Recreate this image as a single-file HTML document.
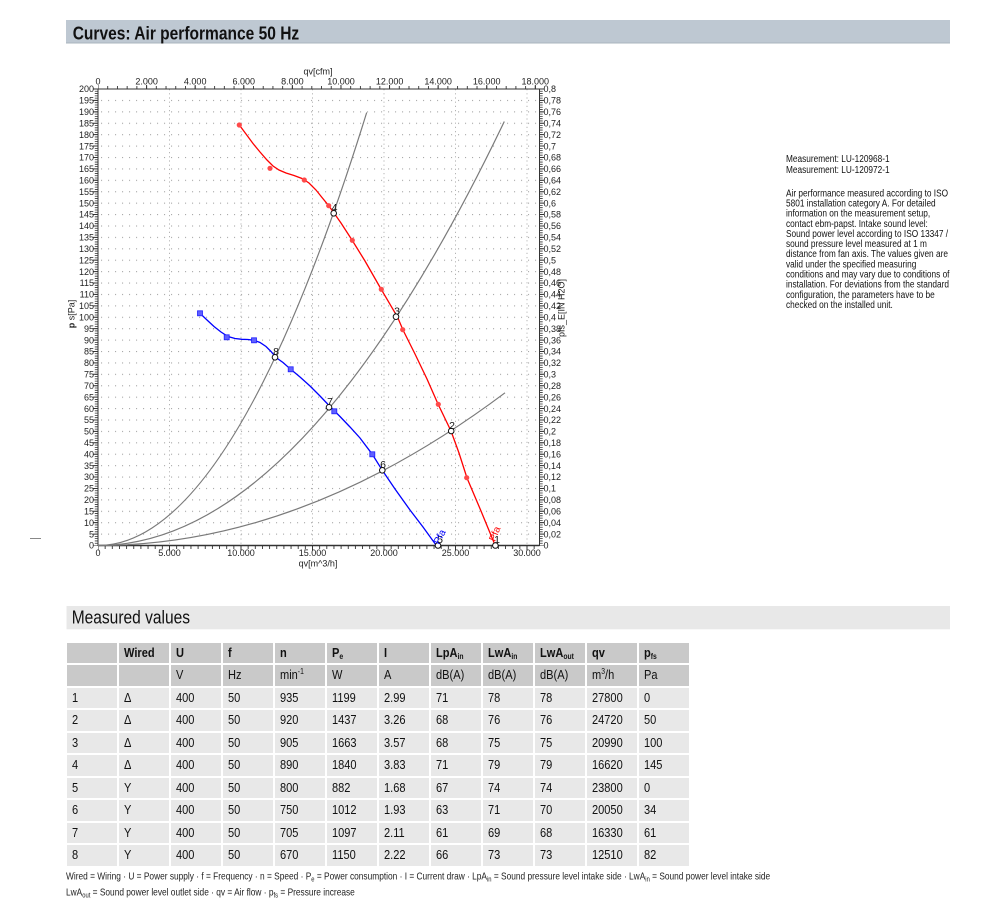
<!DOCTYPE html>
<html><head><meta charset="utf-8">
<style>
html,body{margin:0;padding:0;background:#fff;}
body{width:1000px;height:911px;position:relative;overflow:hidden;font-family:"Liberation Sans",Arial,sans-serif;}
svg{position:absolute;left:0;top:0;}
.tbl{position:absolute;left:66.5px;top:642.7px;display:grid;grid-template-columns:repeat(12,50px);grid-auto-rows:20.5px;gap:2px;}
.c{background:#e8e8e8;font-size:13px;line-height:20.5px;color:#111;white-space:nowrap;overflow:visible;padding-left:5px;box-sizing:border-box;}
.c span{display:inline-block;transform:scaleX(0.85);transform-origin:0 50%;}
.h{background:#c9c9c9;}
.b{font-weight:bold;}
.c sub{font-size:8px;vertical-align:-2px;line-height:0;}
.c sup{font-size:8px;vertical-align:5px;line-height:0;}
</style></head><body>
<svg width="1000" height="911" viewBox="0 0 1000 911" xmlns="http://www.w3.org/2000/svg" font-family="Liberation Sans, Arial, sans-serif">
<defs>
<pattern id="hg" x="98" y="88.5" width="7" height="11.4125" patternUnits="userSpaceOnUse">
<rect x="3" y="0" width="1.1" height="1.1" fill="#a8a8a8"/>
</pattern>
</defs>
<!-- title bar -->
<rect x="66" y="20" width="884" height="23.3" fill="#bec8d2"/>
<line x1="66" y1="43" x2="950" y2="43" stroke="#aab4be" stroke-width="1"/>
<text transform="translate(72.7,39.3) scale(0.84,1)" font-size="18.5" font-weight="bold" fill="#111">Curves: Air performance 50 Hz</text>

<!-- grid -->
<rect x="99" y="95" width="440" height="446" fill="url(#hg)"/>
<g stroke="#b4b4b4" stroke-width="1" stroke-dasharray="1.2 3">
<line x1="169.5" y1="89" x2="169.5" y2="545"/>
<line x1="241" y1="89" x2="241" y2="545"/>
<line x1="312.5" y1="89" x2="312.5" y2="545"/>
<line x1="384" y1="89" x2="384" y2="545"/>
<line x1="455.5" y1="89" x2="455.5" y2="545"/>
<line x1="527" y1="89" x2="527" y2="545"/>
</g>

<!-- axes box -->
<rect x="98" y="89" width="441.5" height="456.5" fill="none" stroke="#333" stroke-width="1"/>
<line x1="98" y1="545.5" x2="539.5" y2="545.5" stroke="#333" stroke-width="1.6"/>
<!-- left ticks -->
<line x1="96.3" y1="545.5" x2="96.3" y2="89" stroke="#333" stroke-width="3" stroke-dasharray="0.8 1.4825" stroke-dashoffset="0.4"/>
<line x1="95.5" y1="545.5" x2="95.5" y2="88" stroke="#333" stroke-width="5" stroke-dasharray="1 10.4125" stroke-dashoffset="0.5"/>
<!-- right ticks -->
<line x1="541.2" y1="545.5" x2="541.2" y2="89" stroke="#333" stroke-width="3" stroke-dasharray="0.8 1.4825" stroke-dashoffset="0.4"/>
<line x1="542" y1="545.5" x2="542" y2="88" stroke="#333" stroke-width="5" stroke-dasharray="1 10.4125" stroke-dashoffset="0.5"/>
<!-- bottom ticks -->
<line x1="98" y1="547.5" x2="540" y2="547.5" stroke="#333" stroke-width="3" stroke-dasharray="0.9 6.25" stroke-dashoffset="0.45"/>
<line x1="98" y1="548" x2="540" y2="548" stroke="#333" stroke-width="5" stroke-dasharray="1 70.5" stroke-dashoffset="0.5"/>
<!-- top ticks -->
<line x1="98" y1="87.5" x2="540" y2="87.5" stroke="#333" stroke-width="3" stroke-dasharray="0.9 8.8185" stroke-dashoffset="0.45"/>
<line x1="98" y1="87" x2="540" y2="87" stroke="#333" stroke-width="4" stroke-dasharray="1 47.592" stroke-dashoffset="0.5"/>

<!-- left labels -->
<g font-size="9" fill="#222" text-anchor="end">
<text x="94" y="548.7">0</text><text x="94" y="537.3">5</text><text x="94" y="525.9">10</text><text x="94" y="514.5">15</text><text x="94" y="503.1">20</text><text x="94" y="491.6">25</text><text x="94" y="480.2">30</text><text x="94" y="468.8">35</text><text x="94" y="457.4">40</text><text x="94" y="446">45</text><text x="94" y="434.6">50</text><text x="94" y="423.2">55</text><text x="94" y="411.8">60</text><text x="94" y="400.3">65</text><text x="94" y="388.9">70</text><text x="94" y="377.5">75</text><text x="94" y="366.1">80</text><text x="94" y="354.7">85</text><text x="94" y="343.3">90</text><text x="94" y="331.9">95</text><text x="94" y="320.5">100</text><text x="94" y="309">105</text><text x="94" y="297.6">110</text><text x="94" y="286.2">115</text><text x="94" y="274.8">120</text><text x="94" y="263.4">125</text><text x="94" y="252">130</text><text x="94" y="240.6">135</text><text x="94" y="229.2">140</text><text x="94" y="217.7">145</text><text x="94" y="206.3">150</text><text x="94" y="194.9">155</text><text x="94" y="183.5">160</text><text x="94" y="172.1">165</text><text x="94" y="160.7">170</text><text x="94" y="149.3">175</text><text x="94" y="137.9">180</text><text x="94" y="126.4">185</text><text x="94" y="115">190</text><text x="94" y="103.6">195</text><text x="94" y="92.2">200</text>
</g>
<!-- right labels -->
<g font-size="9" fill="#222">
<text x="543.5" y="548.7">0</text><text x="543.5" y="537.3">0,02</text><text x="543.5" y="525.9">0,04</text><text x="543.5" y="514.5">0,06</text><text x="543.5" y="503.1">0,08</text><text x="543.5" y="491.6">0,1</text><text x="543.5" y="480.2">0,12</text><text x="543.5" y="468.8">0,14</text><text x="543.5" y="457.4">0,16</text><text x="543.5" y="446">0,18</text><text x="543.5" y="434.6">0,2</text><text x="543.5" y="423.2">0,22</text><text x="543.5" y="411.8">0,24</text><text x="543.5" y="400.3">0,26</text><text x="543.5" y="388.9">0,28</text><text x="543.5" y="377.5">0,3</text><text x="543.5" y="366.1">0,32</text><text x="543.5" y="354.7">0,34</text><text x="543.5" y="343.3">0,36</text><text x="543.5" y="331.9">0,38</text><text x="543.5" y="320.5">0,4</text><text x="543.5" y="309">0,42</text><text x="543.5" y="297.6">0,44</text><text x="543.5" y="286.2">0,46</text><text x="543.5" y="274.8">0,48</text><text x="543.5" y="263.4">0,5</text><text x="543.5" y="252">0,52</text><text x="543.5" y="240.6">0,54</text><text x="543.5" y="229.2">0,56</text><text x="543.5" y="217.7">0,58</text><text x="543.5" y="206.3">0,6</text><text x="543.5" y="194.9">0,62</text><text x="543.5" y="183.5">0,64</text><text x="543.5" y="172.1">0,66</text><text x="543.5" y="160.7">0,68</text><text x="543.5" y="149.3">0,7</text><text x="543.5" y="137.9">0,72</text><text x="543.5" y="126.4">0,74</text><text x="543.5" y="115">0,76</text><text x="543.5" y="103.6">0,78</text><text x="543.5" y="92.2">0,8</text>
</g>
<!-- bottom labels -->
<g font-size="9" fill="#222" text-anchor="middle">
<text x="98" y="556">0</text><text x="169.5" y="556">5.000</text><text x="241" y="556">10.000</text><text x="312.5" y="556">15.000</text><text x="384" y="556">20.000</text><text x="455.5" y="556">25.000</text><text x="527" y="556">30.000</text>
<text x="318" y="566.5">qv[m^3/h]</text>
<!-- top labels -->
<text x="98" y="84.5">0</text><text x="146.6" y="84.5">2.000</text><text x="195.2" y="84.5">4.000</text><text x="243.8" y="84.5">6.000</text><text x="292.4" y="84.5">8.000</text><text x="341" y="84.5">10.000</text><text x="389.6" y="84.5">12.000</text><text x="438.1" y="84.5">14.000</text><text x="486.7" y="84.5">16.000</text><text x="535.3" y="84.5">18.000</text>
<text x="318" y="74.5">qv[cfm]</text>
</g>
<text transform="translate(74.5,314) rotate(-90)" font-size="9" fill="#222" text-anchor="middle"><tspan font-weight="bold">p</tspan> s[Pa]</text>
<text transform="translate(564.5,308) rotate(-90)" font-size="9" fill="#222" text-anchor="middle">pfs_E[IN H2O]</text>
<line x1="30" y1="538.5" x2="41" y2="538.5" stroke="#888" stroke-width="1"/>

<!-- system curves -->
<g fill="none" stroke="#7a7a7a" stroke-width="1.2">
<path d="M98,545.5 Q232.35,545.5 366.7,112.5"/>
<path d="M98,545.5 Q301.15,545.5 504.3,121.5"/>
<path d="M98,545.5 Q301.5,545.5 505,392.8"/>
</g>

<!-- red curve -->
<polyline fill="none" stroke="#ff0000" stroke-width="1.3" points="239.3,125 246,134 253,143.5 260,152 267,160 273,166 279,170 286,173 294,175.5 302,178.5 309,183 316,190 322,197.5 328.7,205.7 334,213 341,223 352,240 365,261 381,289 397.5,317 403,330 415,354 427,379 438,404 451,431 459,453 467,478 481,511 495,545"/>
<g fill="#ff4a4a">
<circle cx="239.3" cy="125" r="2.6"/><circle cx="270" cy="168.3" r="2.6"/><circle cx="304.3" cy="180" r="2.6"/><circle cx="328.7" cy="205.7" r="2.6"/><circle cx="352.3" cy="240.3" r="2.6"/><circle cx="381.3" cy="289.3" r="2.6"/><circle cx="402.7" cy="329.7" r="2.6"/><circle cx="438.3" cy="404.3" r="2.6"/><circle cx="466.7" cy="477.7" r="2.6"/>
</g>

<!-- blue curve -->
<polyline fill="none" stroke="#0000ff" stroke-width="1.3" points="200,313.3 207,320 214,326.5 221,332 228,336.5 235,338.5 242,339.3 248,339.5 254,340.3 260,342.5 266,346.5 271,351.5 276,357.5 283,362.5 290.7,369.3 300,377 310,386 320,396 330,406.5 340,416.5 350,427 360,438 372.3,454.3 382.3,470.3 395,489 410,510 423,527 436,545"/>
<g fill="#6060ff" stroke="#2020ff" stroke-width="0.8">
<rect x="197.5" y="310.8" width="5" height="5"/><rect x="224.2" y="334.8" width="5" height="5"/><rect x="251.5" y="337.8" width="5" height="5"/><rect x="288.2" y="366.8" width="5" height="5"/><rect x="331.8" y="408.8" width="5" height="5"/><rect x="369.8" y="451.8" width="5" height="5"/>
</g>

<!-- operating points -->
<g fill="#fff" stroke="#111" stroke-width="1">
<circle cx="495.4" cy="545.5" r="2.8"/><circle cx="451.2" cy="431" r="2.8"/><circle cx="396" cy="316.7" r="2.8"/><circle cx="333.7" cy="213.3" r="2.8"/><circle cx="438" cy="545.5" r="2.8"/><circle cx="382.3" cy="470.3" r="2.8"/><circle cx="329" cy="407.3" r="2.8"/><circle cx="275" cy="357.3" r="2.8"/>
</g>
<g font-size="10.5" fill="#111" text-anchor="middle">
<text x="497" y="543">1</text><text x="452" y="429">2</text><text x="397" y="314.5">3</text><text x="334.5" y="211">4</text><text x="440" y="543">5</text><text x="383" y="468">6</text><text x="330" y="405">7</text><text x="276" y="355">8</text>
</g>
<text transform="translate(439,545) rotate(-62)" font-size="10" fill="#0000ff">Pfa</text>
<text transform="translate(495,542) rotate(-68)" font-size="10" fill="#ff0000">Pfa</text>

<!-- right text block -->
<g font-size="10" fill="#111">
<text transform="translate(786,161.9) scale(0.83,1)">Measurement: LU-120968-1</text>
<text transform="translate(786,172.9) scale(0.83,1)">Measurement: LU-120972-1</text>
<text transform="translate(786,196.3) scale(0.83,1)">Air performance measured according to ISO</text>
<text transform="translate(786,206.45) scale(0.83,1)">5801 installation category A. For detailed</text>
<text transform="translate(786,216.6) scale(0.83,1)">information on the measurement setup,</text>
<text transform="translate(786,226.75) scale(0.83,1)">contact ebm-papst. Intake sound level:</text>
<text transform="translate(786,236.9) scale(0.83,1)">Sound power level according to ISO 13347 /</text>
<text transform="translate(786,247.05) scale(0.83,1)">sound pressure level measured at 1 m</text>
<text transform="translate(786,257.2) scale(0.83,1)">distance from fan axis. The values given are</text>
<text transform="translate(786,267.35) scale(0.83,1)">valid under the specified measuring</text>
<text transform="translate(786,277.5) scale(0.83,1)">conditions and may vary due to conditions of</text>
<text transform="translate(786,287.65) scale(0.83,1)">installation. For deviations from the standard</text>
<text transform="translate(786,297.8) scale(0.83,1)">configuration, the parameters have to be</text>
<text transform="translate(786,307.95) scale(0.83,1)">checked on the installed unit.</text>
</g>

<!-- measured values bar -->
<rect x="66.5" y="606" width="883.5" height="23.3" fill="#e8e8e8"/>
<text transform="translate(71.7,623.3) scale(0.84,1)" font-size="18.5" fill="#111">Measured values</text>

<!-- footer -->
<g font-size="10" fill="#222">
<text transform="translate(66,879.5) scale(0.835,1)">Wired = Wiring · U = Power supply · f = Frequency · n = Speed · P<tspan font-size="7" dy="2">e</tspan><tspan dy="-2"> = Power consumption · I = Current draw · LpA</tspan><tspan font-size="7" dy="2">in</tspan><tspan dy="-2"> = Sound pressure level intake side · LwA</tspan><tspan font-size="7" dy="2">in</tspan><tspan dy="-2"> = Sound power level intake side</tspan></text>
<text transform="translate(66,895.5) scale(0.835,1)">LwA<tspan font-size="7" dy="2">out</tspan><tspan dy="-2"> = Sound power level outlet side · qv = Air flow · p</tspan><tspan font-size="7" dy="2">fs</tspan><tspan dy="-2"> = Pressure increase</tspan></text>
</g>
</svg>

<div class="tbl">
<div class="c h"></div><div class="c h b"><span>Wired</span></div><div class="c h b"><span>U</span></div><div class="c h b"><span>f</span></div><div class="c h b"><span>n</span></div><div class="c h b"><span>P<sub>e</sub></span></div><div class="c h b"><span>I</span></div><div class="c h b"><span>LpA<sub>in</sub></span></div><div class="c h b"><span>LwA<sub>in</sub></span></div><div class="c h b"><span>LwA<sub>out</sub></span></div><div class="c h b"><span>qv</span></div><div class="c h b"><span>p<sub>fs</sub></span></div>
<div class="c h"></div><div class="c h"></div><div class="c h"><span>V</span></div><div class="c h"><span>Hz</span></div><div class="c h"><span>min<sup>-1</sup></span></div><div class="c h"><span>W</span></div><div class="c h"><span>A</span></div><div class="c h"><span>dB(A)</span></div><div class="c h"><span>dB(A)</span></div><div class="c h"><span>dB(A)</span></div><div class="c h"><span>m<sup>3</sup>/h</span></div><div class="c h"><span>Pa</span></div>
<div class="c"><span>1</span></div><div class="c"><span>Δ</span></div><div class="c"><span>400</span></div><div class="c"><span>50</span></div><div class="c"><span>935</span></div><div class="c"><span>1199</span></div><div class="c"><span>2.99</span></div><div class="c"><span>71</span></div><div class="c"><span>78</span></div><div class="c"><span>78</span></div><div class="c"><span>27800</span></div><div class="c"><span>0</span></div>
<div class="c"><span>2</span></div><div class="c"><span>Δ</span></div><div class="c"><span>400</span></div><div class="c"><span>50</span></div><div class="c"><span>920</span></div><div class="c"><span>1437</span></div><div class="c"><span>3.26</span></div><div class="c"><span>68</span></div><div class="c"><span>76</span></div><div class="c"><span>76</span></div><div class="c"><span>24720</span></div><div class="c"><span>50</span></div>
<div class="c"><span>3</span></div><div class="c"><span>Δ</span></div><div class="c"><span>400</span></div><div class="c"><span>50</span></div><div class="c"><span>905</span></div><div class="c"><span>1663</span></div><div class="c"><span>3.57</span></div><div class="c"><span>68</span></div><div class="c"><span>75</span></div><div class="c"><span>75</span></div><div class="c"><span>20990</span></div><div class="c"><span>100</span></div>
<div class="c"><span>4</span></div><div class="c"><span>Δ</span></div><div class="c"><span>400</span></div><div class="c"><span>50</span></div><div class="c"><span>890</span></div><div class="c"><span>1840</span></div><div class="c"><span>3.83</span></div><div class="c"><span>71</span></div><div class="c"><span>79</span></div><div class="c"><span>79</span></div><div class="c"><span>16620</span></div><div class="c"><span>145</span></div>
<div class="c"><span>5</span></div><div class="c"><span>Y</span></div><div class="c"><span>400</span></div><div class="c"><span>50</span></div><div class="c"><span>800</span></div><div class="c"><span>882</span></div><div class="c"><span>1.68</span></div><div class="c"><span>67</span></div><div class="c"><span>74</span></div><div class="c"><span>74</span></div><div class="c"><span>23800</span></div><div class="c"><span>0</span></div>
<div class="c"><span>6</span></div><div class="c"><span>Y</span></div><div class="c"><span>400</span></div><div class="c"><span>50</span></div><div class="c"><span>750</span></div><div class="c"><span>1012</span></div><div class="c"><span>1.93</span></div><div class="c"><span>63</span></div><div class="c"><span>71</span></div><div class="c"><span>70</span></div><div class="c"><span>20050</span></div><div class="c"><span>34</span></div>
<div class="c"><span>7</span></div><div class="c"><span>Y</span></div><div class="c"><span>400</span></div><div class="c"><span>50</span></div><div class="c"><span>705</span></div><div class="c"><span>1097</span></div><div class="c"><span>2.11</span></div><div class="c"><span>61</span></div><div class="c"><span>69</span></div><div class="c"><span>68</span></div><div class="c"><span>16330</span></div><div class="c"><span>61</span></div>
<div class="c"><span>8</span></div><div class="c"><span>Y</span></div><div class="c"><span>400</span></div><div class="c"><span>50</span></div><div class="c"><span>670</span></div><div class="c"><span>1150</span></div><div class="c"><span>2.22</span></div><div class="c"><span>66</span></div><div class="c"><span>73</span></div><div class="c"><span>73</span></div><div class="c"><span>12510</span></div><div class="c"><span>82</span></div>
</div>
</body></html>
